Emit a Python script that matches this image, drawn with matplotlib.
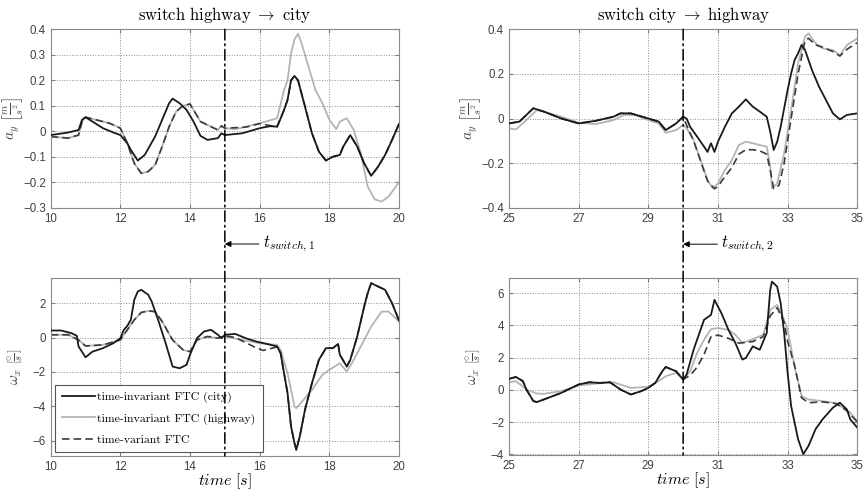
import numpy as np
import matplotlib
matplotlib.use('Agg')
import matplotlib.pyplot as plt
from matplotlib.patches import ConnectionPatch

plt.rcParams['mathtext.fontset'] = 'cm'
plt.rcParams['font.family'] = ['Liberation Sans', 'DejaVu Sans']

# switch times
t_switch = [15.0, 30.0]
switch_labels = [r'$t_{switch,1}$', r'$t_{switch,2}$']
titles = [r'$\mathrm{switch\ highway}\ \rightarrow\ \mathrm{city}$',
          r'$\mathrm{switch\ city}\ \rightarrow\ \mathrm{highway}$']
legend_labels = ['time-invariant FTC (city)', 'time-invariant FTC (highway)',
                 'time-variant FTC']

# ---- left column: lateral acceleration a_y, t = 10..20
t_ay1_city = [10.0, 10.5, 10.8, 10.9, 11.0, 11.2, 11.5, 11.8, 12.0, 12.2, 12.3, 12.5, 12.7,
              13.0, 13.2, 13.4, 13.5, 13.7, 13.9, 14.1, 14.3, 14.5, 14.8, 14.9, 15.0, 15.5,
              16.0, 16.3, 16.5, 16.6, 16.7, 16.8, 16.9, 17.0, 17.1, 17.3, 17.5, 17.7, 17.9,
              18.1, 18.3, 18.4, 18.6, 18.8, 19.0, 19.2, 19.4, 19.6, 19.8, 20.0]
ay1_city = [-0.015, -0.005, 0.005, 0.045, 0.055, 0.038, 0.012, -0.005, -0.015, -0.047,
            -0.073, -0.115, -0.093, -0.02, 0.045, 0.11, 0.128, 0.11, 0.084, 0.038, -0.018,
            -0.034, -0.027, -0.008, -0.015, -0.008, 0.012, 0.02, 0.018, 0.05, 0.084, 0.123,
            0.2, 0.217, 0.2, 0.097, -0.008, -0.08, -0.115, -0.1, -0.093, -0.06, -0.015,
            -0.06, -0.126, -0.175, -0.139, -0.093, -0.034, 0.029]
t_ay1_hwy = [10.0, 10.5, 10.8, 10.9, 11.0, 11.3, 11.7, 12.0, 12.2, 12.4, 12.6, 12.8, 13.0,
             13.2, 13.4, 13.6, 13.8, 14.0, 14.1, 14.3, 14.6, 14.8, 14.9, 15.0, 15.3, 15.6,
             16.0, 16.5, 16.7, 16.8, 16.9, 17.0, 17.1, 17.2, 17.4, 17.6, 17.8, 18.0, 18.2,
             18.3, 18.5, 18.7, 18.9, 19.1, 19.3, 19.5, 19.7, 20.0]
ay1_hwy = [-0.021, -0.027, -0.015, 0.038, 0.055, 0.045, 0.031, 0.012, -0.047, -0.126,
           -0.165, -0.158, -0.132, -0.06, 0.018, 0.077, 0.1, 0.107, 0.084, 0.038, 0.018,
           0.005, 0.021, 0.012, 0.008, 0.018, 0.031, 0.051, 0.162, 0.2, 0.306, 0.361,
           0.382, 0.346, 0.254, 0.162, 0.11, 0.045, 0.008, 0.038, 0.051, 0.005, -0.086,
           -0.217, -0.267, -0.276, -0.256, -0.2]
t_ay1_tv = [10.0, 10.5, 10.8, 10.9, 11.0, 11.3, 11.7, 12.0, 12.2, 12.4, 12.6, 12.8, 13.0,
            13.2, 13.4, 13.6, 13.8, 14.0, 14.1, 14.3, 14.6, 14.8, 14.9, 15.0, 15.3, 15.6,
            16.0, 16.3, 16.5, 16.6, 16.7, 16.8, 16.9, 17.0, 17.1, 17.3, 17.5, 17.7, 17.9,
            18.1, 18.3, 18.4, 18.6, 18.8, 19.0, 19.2, 19.4, 19.6, 19.8, 20.0]
ay1_tv = [-0.021, -0.027, -0.015, 0.038, 0.055, 0.045, 0.031, 0.012, -0.047, -0.126,
          -0.165, -0.158, -0.132, -0.06, 0.018, 0.077, 0.1, 0.107, 0.084, 0.038, 0.018,
          0.005, 0.021, 0.012, 0.014, 0.016, 0.03, 0.022, 0.018, 0.05, 0.084, 0.123,
          0.2, 0.217, 0.2, 0.097, -0.008, -0.08, -0.115, -0.1, -0.093, -0.06, -0.015,
          -0.06, -0.126, -0.175, -0.139, -0.093, -0.034, 0.029]

# ---- left column: roll rate omega_x
t_w1_city = [10.0, 10.3, 10.6, 10.75, 10.8, 11.0, 11.2, 11.5, 11.8, 12.0, 12.1, 12.2, 12.3,
             12.4, 12.5, 12.6, 12.8, 12.9, 13.0, 13.1, 13.3, 13.5, 13.7, 13.9, 14.0, 14.2,
             14.4, 14.6, 14.8, 14.9, 15.0, 15.3, 15.6, 15.9, 16.2, 16.5, 16.6, 16.7, 16.8,
             16.9, 17.0, 17.05, 17.15, 17.3, 17.5, 17.7, 17.9, 18.1, 18.25, 18.3, 18.5,
             18.6, 18.8, 19.0, 19.1, 19.2, 19.4, 19.6, 19.8, 20.0]
w1_city = [0.41, 0.41, 0.25, 0.1, -0.52, -1.15, -0.82, -0.62, -0.33, -0.04, 0.45, 0.68,
           1.03, 2.2, 2.68, 2.78, 2.49, 2.1, 1.51, 0.93, -0.33, -1.69, -1.79, -1.59, -1.0,
           -0.04, 0.35, 0.45, 0.16, -0.04, 0.16, 0.21, -0.04, -0.23, -0.37, -0.52, -0.91,
           -2.08, -3.24, -5.18, -6.16, -6.54, -5.77, -4.21, -2.66, -1.3, -0.62, -0.62,
           -0.37, -1.0, -1.69, -1.3, 0.06, 1.81, 2.58, 3.17, 2.97, 2.78, 2.0, 0.99]
t_w1_hwy = [10.0, 10.5, 10.8, 11.0, 11.5, 12.0, 12.2, 12.4, 12.6, 12.8, 13.0, 13.2, 13.5,
            13.8, 14.0, 14.2, 14.5, 14.8, 15.0, 15.5, 16.0, 16.5, 16.6, 16.8, 17.0, 17.05,
            17.3, 17.5, 17.8, 18.0, 18.3, 18.5, 18.7, 19.0, 19.2, 19.5, 19.7, 19.9, 20.0]
w1_hwy = [0.16, 0.16, -0.14, -0.49, -0.43, -0.14, 0.45, 1.03, 1.46, 1.55, 1.51, 0.93,
          -0.14, -0.72, -0.82, -0.14, 0.06, -0.04, 0.06, -0.14, -0.33, -0.43, -0.72,
          -2.08, -4.02, -4.12, -3.53, -3.05, -2.17, -1.88, -1.5, -1.98, -1.3, -0.14,
          0.64, 1.51, 1.51, 1.13, 0.93]
t_w1_tv = [10.0, 10.5, 10.8, 11.0, 11.5, 12.0, 12.2, 12.4, 12.6, 12.8, 13.0, 13.2, 13.5,
           13.8, 14.0, 14.2, 14.5, 14.8, 15.0, 15.3, 15.6, 15.9, 16.1, 16.5, 16.6, 16.7,
           16.8, 16.9, 17.0, 17.05, 17.15, 17.3, 17.5, 17.7, 17.9, 18.1, 18.25, 18.3, 18.5,
           18.6, 18.8, 19.0, 19.1, 19.2, 19.4, 19.6, 19.8, 20.0]
w1_tv = [0.16, 0.16, -0.14, -0.49, -0.43, -0.14, 0.45, 1.03, 1.46, 1.55, 1.51, 0.93,
         -0.14, -0.72, -0.82, -0.14, 0.06, -0.04, 0.1, 0.0, -0.3, -0.6, -0.75, -0.55,
         -0.91, -2.08, -3.24, -5.18, -6.16, -6.54, -5.77, -4.21, -2.66, -1.3, -0.62,
         -0.62, -0.37, -1.0, -1.69, -1.3, 0.06, 1.81, 2.58, 3.17, 2.97, 2.78, 2.0, 0.99]

# ---- right column: a_y, t = 25..35
t_ay2_city = [25.0, 25.3, 25.6, 25.7, 26.0, 26.5, 27.0, 27.5, 28.0, 28.2, 28.5, 29.0, 29.3,
              29.5, 29.8, 30.0, 30.1, 30.2, 30.4, 30.6, 30.7, 30.8, 30.9, 31.0, 31.2, 31.4,
              31.6, 31.8, 32.0, 32.2, 32.4, 32.5, 32.6, 32.7, 32.8, 33.0, 33.1, 33.2, 33.3,
              33.4, 33.5, 33.7, 33.9, 34.1, 34.3, 34.5, 34.7, 35.0]
ay2_city = [-0.022, -0.014, 0.031, 0.046, 0.031, 0.0, -0.022, -0.01, 0.008, 0.023, 0.023,
            0.0, -0.014, -0.052, -0.022, 0.008, 0.0, -0.037, -0.081, -0.126, -0.15, -0.111,
            -0.15, -0.104, -0.037, 0.023, 0.053, 0.086, 0.053, 0.031, 0.008, -0.059,
            -0.141, -0.104, -0.037, 0.128, 0.202, 0.262, 0.292, 0.33, 0.307, 0.217, 0.143,
            0.083, 0.023, -0.004, 0.016, 0.023]
t_ay2_hwy = [25.0, 25.2, 25.5, 25.8, 26.0, 26.5, 27.0, 27.5, 28.0, 28.3, 28.6, 29.0, 29.3,
             29.5, 29.8, 30.0, 30.1, 30.3, 30.5, 30.7, 30.85, 31.0, 31.2, 31.4, 31.6, 31.8,
             32.0, 32.2, 32.4, 32.5, 32.55, 32.7, 32.9, 33.1, 33.3, 33.5, 33.6, 33.8, 34.0,
             34.3, 34.5, 34.7, 35.0]
ay2_hwy = [-0.044, -0.049, -0.007, 0.038, 0.031, 0.008, -0.019, -0.025, -0.007, 0.016,
           0.016, -0.007, -0.022, -0.064, -0.052, -0.029, -0.044, -0.096, -0.186, -0.276,
           -0.313, -0.291, -0.231, -0.186, -0.119, -0.104, -0.111, -0.119, -0.126, -0.216,
           -0.313, -0.291, -0.156, 0.038, 0.247, 0.367, 0.382, 0.337, 0.315, 0.307, 0.284,
           0.329, 0.359]
t_ay2_tv = [25.0, 25.3, 25.6, 25.7, 26.0, 26.5, 27.0, 27.5, 28.0, 28.2, 28.5, 29.0, 29.3,
            29.5, 29.8, 30.0, 30.1, 30.3, 30.5, 30.7, 30.9, 31.0, 31.2, 31.4, 31.6, 31.8,
            32.0, 32.2, 32.4, 32.5, 32.6, 32.75, 32.9, 33.1, 33.3, 33.5, 33.6, 33.8, 34.0,
            34.3, 34.5, 34.7, 35.0]
ay2_tv = [-0.022, -0.014, 0.031, 0.046, 0.031, 0.0, -0.022, -0.01, 0.008, 0.023, 0.023,
          0.0, -0.014, -0.052, -0.022, 0.008, -0.03, -0.1, -0.19, -0.28, -0.315, -0.305,
          -0.26, -0.22, -0.16, -0.14, -0.14, -0.145, -0.16, -0.23, -0.315, -0.3, -0.2,
          0.0, 0.2, 0.35, 0.36, 0.33, 0.32, 0.3, 0.28, 0.31, 0.34]

# ---- right column: omega_x
t_w2_city = [25.0, 25.2, 25.4, 25.5, 25.7, 25.8, 26.0, 26.5, 27.0, 27.3, 27.6, 27.9, 28.2,
             28.5, 28.8, 29.0, 29.2, 29.4, 29.5, 29.8, 30.0, 30.1, 30.3, 30.5, 30.6, 30.8,
             30.9, 31.1, 31.3, 31.5, 31.7, 31.8, 32.0, 32.2, 32.4, 32.5, 32.55, 32.7, 32.8,
             32.9, 33.0, 33.1, 33.3, 33.45, 33.6, 33.8, 34.0, 34.3, 34.5, 34.7, 34.8, 35.0]
w2_city = [0.68, 0.8, 0.54, 0.02, -0.7, -0.76, -0.6, -0.19, 0.33, 0.47, 0.43, 0.47, 0.02,
           -0.29, -0.08, 0.12, 0.43, 1.15, 1.42, 1.15, 0.64, 0.95, 2.49, 3.73, 4.35, 4.66,
           5.59, 4.76, 3.73, 2.91, 1.88, 1.98, 2.7, 2.49, 3.53, 6.21, 6.72, 6.41, 5.38,
           3.53, 1.05, -1.01, -3.07, -4.0, -3.48, -2.45, -1.84, -1.11, -0.8, -1.22, -1.84,
           -2.35]
t_w2_hwy = [25.0, 25.2, 25.5, 25.8, 26.0, 26.5, 27.0, 27.5, 28.0, 28.5, 29.0, 29.3, 29.5,
            29.8, 30.0, 30.2, 30.4, 30.6, 30.8, 31.0, 31.3, 31.5, 31.7, 32.0, 32.3, 32.5,
            32.7, 32.9, 33.0, 33.2, 33.4, 33.6, 34.0, 34.3, 34.6, 34.8, 35.0]
w2_hwy = [0.47, 0.54, 0.02, -0.23, -0.25, -0.08, 0.27, 0.39, 0.47, 0.12, 0.19, 0.54, 0.85,
          1.05, 0.64, 1.15, 2.29, 3.11, 3.77, 3.84, 3.73, 3.42, 2.91, 3.15, 3.42, 4.97,
          5.28, 4.35, 3.73, 1.46, -0.39, -0.6, -0.7, -0.8, -1.11, -1.42, -1.94]
t_w2_tv = [25.0, 25.2, 25.4, 25.5, 25.7, 25.8, 26.0, 26.5, 27.0, 27.3, 27.6, 27.9, 28.2,
           28.5, 28.8, 29.0, 29.2, 29.4, 29.5, 29.8, 30.0, 30.2, 30.4, 30.6, 30.8, 31.0,
           31.3, 31.6, 32.0, 32.3, 32.5, 32.7, 32.9, 33.0, 33.2, 33.4, 33.6, 34.0, 34.4,
           34.7, 35.0]
w2_tv = [0.68, 0.8, 0.54, 0.02, -0.7, -0.76, -0.6, -0.19, 0.33, 0.47, 0.43, 0.47, 0.02,
         -0.29, -0.08, 0.12, 0.43, 1.15, 1.42, 1.15, 0.64, 0.9, 1.4, 2.2, 3.3, 3.4, 3.2,
         2.9, 3.0, 3.3, 4.6, 5.1, 4.2, 3.0, 1.5, -0.5, -0.8, -0.75, -0.85, -1.3, -2.0]

panels = [
    [(t_ay1_city, ay1_city), (t_ay1_hwy, ay1_hwy), (t_ay1_tv, ay1_tv)],
    [(t_ay2_city, ay2_city), (t_ay2_hwy, ay2_hwy), (t_ay2_tv, ay2_tv)],
    [(t_w1_city, w1_city), (t_w1_hwy, w1_hwy), (t_w1_tv, w1_tv)],
    [(t_w2_city, w2_city), (t_w2_hwy, w2_hwy), (t_w2_tv, w2_tv)],
]
xlims = [(10, 20), (25, 35), (10, 20), (25, 35)]
xticks = [np.arange(10, 21, 2), np.arange(25, 36, 2)] * 2
ylims = [(-0.3, 0.4), (-0.4, 0.4), (-6.9, 3.45), (-4.05, 6.93)]
yticks = [np.arange(-0.3, 0.41, 0.1), np.arange(-0.4, 0.41, 0.2),
          np.arange(-6, 3, 2), np.arange(-4, 7, 2)]
ylabels = [r'$a_y\ \left[\frac{m}{s^2}\right]$', r'$a_y\ \left[\frac{m}{s^2}\right]$',
           r'$\omega_x\ \left[\frac{\circ}{s}\right]$', r'$\omega_x\ \left[\frac{\circ}{s}\right]$']

styles = [dict(color='#1a1a1a', lw=1.3, ls='-'),
          dict(color='#b4b4b4', lw=1.3, ls='-'),
          dict(color='#3c3c3c', lw=1.2, ls=(0, (4.5, 2.5)))]

fig = plt.figure(figsize=(8.65, 4.91), dpi=100)
pos = [[0.0586, 0.577, 0.4027, 0.3633], [0.5884, 0.577, 0.4027, 0.3633],
       [0.0586, 0.0713, 0.4027, 0.3619], [0.5884, 0.0733, 0.4027, 0.3599]]
axes = [fig.add_axes(p) for p in pos]

for i, ax in enumerate(axes):
    lines = []
    for (tt, yy), st in zip(panels[i], styles):
        ln, = ax.plot(tt, yy, **st)
        lines.append(ln)
    # city line on top of the dashed one
    lines[0].set_zorder(3)
    ax.set_xlim(*xlims[i])
    ax.set_ylim(*ylims[i])
    ax.set_xticks(xticks[i])
    ax.set_yticks(np.round(yticks[i], 2))
    ax.yaxis.set_major_formatter(plt.FuncFormatter(lambda v, p: f'{v:g}'.replace('-', '\u2212')))
    ax.grid(True, ls=':', color='#8c8c8c', lw=0.7)
    ax.tick_params(direction='in', length=3, labelsize=8.3, colors='#7a7a7a',
                   labelcolor='#404040', top=True, right=True)
    for s in ax.spines.values():
        s.set_color('#8a8a8a')
        s.set_linewidth(0.8)
    ax.set_ylabel(ylabels[i], fontsize=11, color='#444444')
    ax.yaxis.set_label_coords(-0.074, 0.5)
    if i < 2:
        ax.set_title(titles[i], fontsize=12, pad=7)
    else:
        ax.set_xlabel(r'$time\ [s]$', fontsize=11.5, labelpad=-1)

leg = axes[2].legend(lines, legend_labels, loc='lower left', bbox_to_anchor=(0.012, 0.022),
                     borderaxespad=0, fancybox=False, framealpha=1, edgecolor='#555555',
                     prop={'family': 'cmr10', 'size': 8.5}, handlelength=2.8,
                     handletextpad=0.2, labelspacing=0.85, borderpad=0.6)
leg.get_frame().set_linewidth(0.8)

# switch line through both panels and the annotation arrow
for k in range(2):
    top_ax, bot_ax = axes[k], axes[k + 2]
    con = ConnectionPatch(xyA=(t_switch[k], top_ax.get_ylim()[1]), coordsA=top_ax.transData,
                          xyB=(t_switch[k], bot_ax.get_ylim()[0]), coordsB=bot_ax.transData,
                          color='black', lw=1.1, ls=(0, (7, 2.5, 1.2, 2.5)), zorder=5)
    fig.add_artist(con)
    bot_ax.annotate(switch_labels[k], xy=(t_switch[k], 1.193),
                    xycoords=bot_ax.get_xaxis_transform(),
                    xytext=(t_switch[k] + 1.1, 1.193), textcoords=bot_ax.get_xaxis_transform(),
                    ha='left', va='center', fontsize=12,
                    arrowprops=dict(arrowstyle='-|>', color='black', lw=0.7,
                                    mutation_scale=9, shrinkA=1, shrinkB=0))

fig.savefig('out.png', dpi=100)
